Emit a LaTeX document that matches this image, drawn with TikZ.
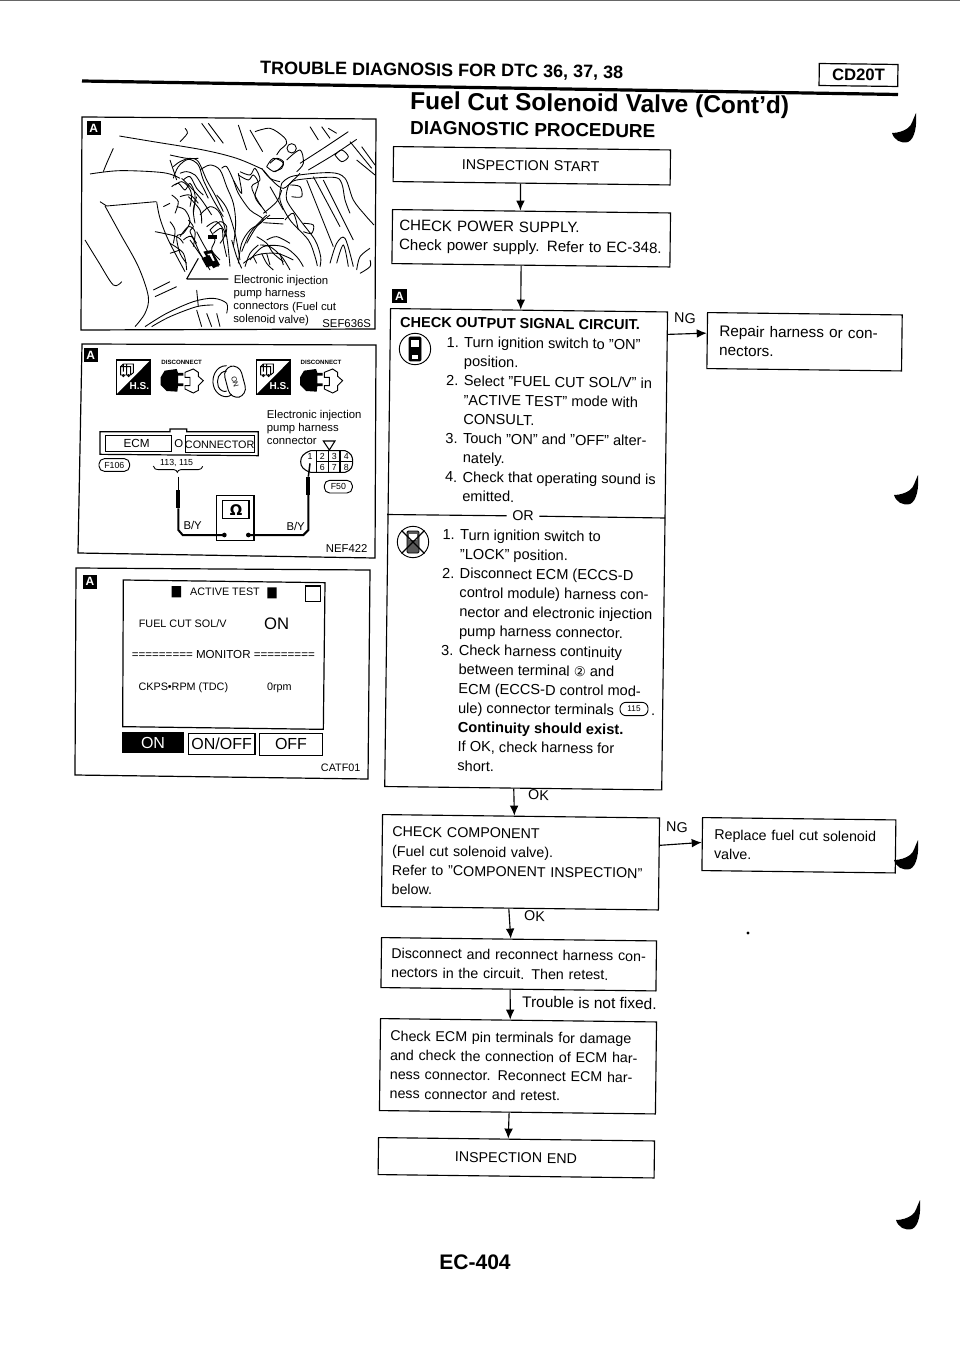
\documentclass[tikz,border=0pt]{standalone}
\usepackage{fontspec}
\setmainfont{Liberation Sans}
\newfontfamily\djv{DejaVu Sans}
\usetikzlibrary{arrows.meta,calc}
\newcommand{\fsz}[2]{\fontsize{#1}{#2}\selectfont}
\newcommand{\skc}[1]{\draw[sk] plot[smooth,tension=.55] coordinates {#1};}
\tikzset{
  sk/.style={line width=0.65pt,black},
  frameline/.style={line width=0.9pt,black},
  flowbox/.style={draw,line width=0.85pt,rotate=-0.7,anchor=north west,align=left,inner xsep=7.5pt,inner ysep=0pt,font=\fsz{10.7}{14.44}},
  bw/.style={minimum width=#1*0.75pt,text width=#1*0.75pt-15pt},
  bh/.style={minimum height=#1*0.75pt},
  txt/.style={rotate=-0.7,anchor=west,inner sep=0pt,align=left,font=\fsz{10.7}{14.44}},
  ptxt/.style={inner sep=0pt,align=left,font=\fsz{8.5}{9.9}},
  flow/.style={line width=0.85pt,-{Latex[length=7.5pt,width=6.5pt]}},
  mk/.style={fill=black,text=white,inner sep=0pt,minimum size=10.6pt,font=\bfseries\fsz{9}{9}},
  jmark/.pic={\fill[black] (0,0) .. controls (-3,6) and (-4,12) .. (-8,15) .. controls (-12,18) and (-18,20) .. (-24,20) .. controls (-22,27) and (-15,31) .. (-8,29) .. controls (-1,26) and (1,12) .. (0,0) -- cycle;},
  hsicon/.pic={
    \draw[line width=0.8pt] (0,0) rectangle (102,103);
    \fill[black] (102,0) -- (102,103) -- (0,103) -- cycle;
    \node[text=white,inner sep=0pt,font=\bfseries\fsz{7.5}{8}] (-t) at (68,77) {H.S.};
    \draw[sk] (12,20) rectangle (42,45) (12,20) -- (20,12) -- (50,12) -- (50,38) -- (42,45) (20,12)--(20,35) (30,12)--(30,45);
    \draw[sk] (20,47) circle (3) (36,47) circle (3);
  },
  dcicon/.pic={
    \node[inner sep=0pt,font=\bfseries\fsz{4.6}{5}] (-t) at (63,-20) {DISCONNECT};
    \fill[black] (0,25) -- (12,5) -- (48,0) -- (52,12) -- (68,12) -- (68,20) -- (52,20) -- (52,43) -- (68,43) -- (68,51) -- (52,51) -- (50,68) -- (18,66) -- (0,48) -- cycle;
    \draw[line width=0.7pt] (73,10) -- (98,0) -- (113,10) -- (113,22) -- (128,35) -- (113,50) -- (113,64) -- (98,72) -- (73,60) -- (73,50) -- (88,50) -- (88,25) -- (73,25) -- cycle;
  }
}
\begin{document}
\begin{tikzpicture}[x=0.75pt,y=-0.75pt]
\useasboundingbox (0,0) rectangle (960,1358);
\draw[black!60,line width=0.8pt] (0,0.6) -- (960,0.6);
% ---- heading
\node[rotate=-0.7,anchor=west,inner sep=0pt,font=\bfseries\fsz{13.5}{16}] (head) at (260,69) {TROUBLE DIAGNOSIS FOR DTC 36, 37, 38};
\draw[line width=2.4pt] (82,81) -- (898,94.5);
\node[draw,line width=0.9pt,rotate=-0.7,minimum width=59pt,minimum height=16.5pt,inner sep=0pt,font=\bfseries\fsz{12.5}{13}] (cd) at (858.5,75) {CD20T};
\node[rotate=-0.7,anchor=west,inner sep=0pt,font=\bfseries\fsz{18.4}{20}] (fuel) at (410,103) {Fuel Cut Solenoid Valve (Cont'd)};
\node[rotate=-0.7,anchor=west,inner sep=0pt,font=\bfseries\fsz{14.2}{15}] (dp) at (410,128) {DIAGNOSTIC PROCEDURE};
\node[inner sep=0pt,font=\bfseries\fsz{15.8}{17}] (page) at (475,1262) {EC-404};
% ---- flow boxes
\node[flowbox,bw=277,bh=35] (start) at (393,146) {\hspace*{44pt}INSPECTION START};
\node[flowbox,minimum width=208.5pt,bh=54,font=\fsz{11.3}{14.44},inner xsep=5.25pt,text width=198pt] (power) at (392,209) {CHECK POWER SUPPLY.\\Check power supply. Refer to EC-348.};
\node[flowbox,bw=277,bh=478] (output) at (390,308) {};
\node[flowbox,bw=188,bh=56,inner xsep=9pt,text width=128pt,font=\fsz{11.5}{14.44}] (repair) at (707,312) {Repair harness or con-\\nectors.};
\node[flowbox,bw=277,bh=92] (comp) at (382,814) {CHECK COMPONENT\\(Fuel cut solenoid valve).\\Refer to "COMPONENT INSPECTION"\\below.};
\node[flowbox,bw=186,bh=53,inner xsep=9pt,text width=127pt] (replace) at (702,817) {Replace fuel cut solenoid\\valve.};
\node[flowbox,bw=275,bh=50] (disc) at (381,937) {Disconnect and reconnect harness con-\\nectors in the circuit. Then retest.};
\node[flowbox,bw=276,bh=92] (ecm) at (380,1018) {Check ECM pin terminals for damage\\and check the connection of ECM har-\\ness connector. Reconnect ECM har-\\ness connector and retest.};
\node[flowbox,bw=276,bh=37] (end) at (378,1137) {\hspace*{50pt}INSPECTION END};
% ---- box text of the large step
\node[txt,font=\bfseries\fsz{10.9}{14.44}] (otitle) at (400,322) {CHECK OUTPUT SIGNAL CIRCUIT.};
\node[txt,font=\fsz{10.95}{14.44}] (oa) at (445.5,419) {1. Turn ignition switch to "ON"\\\phantom{1. }position.\\2. Select "FUEL CUT SOL/V" in\\\phantom{2. }"ACTIVE TEST" mode with\\\phantom{2. }CONSULT.\\3. Touch "ON" and "OFF" alter-\\\phantom{3. }nately.\\4. Check that operating sound is\\\phantom{4. }emitted.};
\node[txt,font=\fsz{10.95}{14.44}] (ob) at (441,650) {1. Turn ignition switch to\\\phantom{1. }"LOCK" position.\\2. Disconnect ECM (ECCS-D\\\phantom{2. }control module) harness con-\\\phantom{2. }nector and electronic injection\\\phantom{2. }pump harness connector.\\3. Check harness continuity\\\phantom{3. }between terminal {\djv\fsz{10}{14.44}②} and\\\phantom{3. }ECM (ECCS-D control mod-\\\phantom{3. }ule) connector terminals \hspace{25pt}.\\\phantom{3. }\textbf{Continuity should exist.}\\\phantom{3. }If OK, check harness for\\\phantom{3. }short.};
\node[draw,line width=0.7pt,rounded corners=4.5pt,inner sep=0pt,minimum width=21pt,minimum height=10pt,font=\fsz{6.2}{7}] (t115) at (634,709) {115};
\node[inner sep=0pt,font=\fsz{10.7}{12},fill=white,inner xsep=4pt,rotate=-0.7] (ortxt) at (523,516) {OR};
\draw[line width=0.85pt] (387,514.5) -- (ortxt.west) (ortxt.east) -- (665,518);
% ---- ignition icons
\node[draw,circle,line width=0.7pt,minimum size=23.5pt,inner sep=0pt] (ign1) at (415,349) {};
\draw[line width=0.7pt,fill=black,rounded corners=1pt] (409,337) rectangle (421,361);
\fill[white] (411,340) rectangle (419,347);
\fill[white] (412,355) rectangle (418,359);
\node[draw,circle,line width=0.7pt,minimum size=23.5pt,inner sep=0pt] (ign2) at (413,542) {};
\draw[line width=0.7pt,fill=black!65,rounded corners=1pt] (407,531) rectangle (419,553);
\fill[white] (409,534) rectangle (417,540);
\draw[line width=1pt] (ign2.north west) -- (ign2.south east) (ign2.north east) -- (ign2.south west);
% ---- connectors
\coordinate (s1) at ($(start.south west)!0.46!(start.south east)$);
\coordinate (t1) at ($(power.north west)!0.46!(power.north east)$);
\draw[flow] (s1) -- (t1);
\coordinate (s2) at ($(power.south west)!0.465!(power.south east)$);
\coordinate (t2) at ($(output.north west)!0.47!(output.north east)$);
\draw[flow] (s2) -- (t2);
\coordinate (s3) at ($(output.south west)!0.466!(output.south east)$);
\coordinate (t3) at ($(comp.north west)!0.476!(comp.north east)$);
\draw[flow] (s3) -- (t3);
\coordinate (s4) at ($(comp.south west)!0.46!(comp.south east)$);
\coordinate (t4) at ($(disc.north west)!0.47!(disc.north east)$);
\draw[flow] (s4) -- (t4);
\coordinate (s5) at ($(disc.south west)!0.47!(disc.south east)$);
\coordinate (t5) at ($(ecm.north west)!0.47!(ecm.north east)$);
\draw[flow] (s5) -- (t5);
\coordinate (s6) at ($(ecm.south west)!0.47!(ecm.south east)$);
\coordinate (t6) at ($(end.north west)!0.47!(end.north east)$);
\draw[flow] (s6) -- (t6);
\coordinate (s7) at ($(output.north east)!0.048!(output.south east)$);
\coordinate (t7) at ($(repair.north west)!0.37!(repair.south west)$);
\draw[flow] (s7) -- (t7);
\coordinate (s8) at ($(comp.north east)!0.3!(comp.south east)$);
\coordinate (t8) at ($(replace.north west)!0.47!(replace.south west)$);
\draw[flow] (s8) -- (t8);
\node[txt] (ok1) at (528,795) {OK};
\node[txt] (ok2) at (524,916) {OK};
\node[txt,font=\fsz{11.6}{14.44}] (trb) at (522,1002) {Trouble is not fixed.};
\node[txt] (ng1) at (674,318) {NG};
\node[txt] (ng2) at (666,827) {NG};
\node[mk] (ma) at (399.5,296) {A};
% ---- right margin marks
\pic at (916,113) {jmark};
\pic at (918,475) {jmark};
\pic at (918,840) {jmark};
\pic at (920,1200) {jmark};
\fill (748,933) circle (1.6);
% ---- panel 1
\draw[frameline] (82,117) -- (376,119) -- (375,329) -- (81,330) -- cycle;
\begin{scope}[shift={(70,100)},x=0.25pt,y=-0.25pt]
\node[mk] (m1) at (71,85) {A};
\skc{(345,85)(352,100)(330,125)}
\skc{(395,70)(435,125)}
\skc{(415,70)(460,130)}
\skc{(505,75)(530,150)}
\skc{(540,90)(578,155)}
\skc{(555,95)(600,85)(640,110)(650,130)(630,150)(620,165)}
\skc{(720,80)(745,120)}
\skc{(755,80)(780,115)}
\skc{(775,85)(800,100)}
\skc{(148,108)(250,125)(400,150)(500,175)(578,208)}
\skc{(60,222)(150,212)(280,218)(330,235)}
\skc{(130,145)(110,190)(100,215)}
\skc{(300,165)(350,175)(385,175)}
\skc{(310,235)(325,200)(355,178)(385,195)(400,240)(430,300)(460,350)}
\skc{(390,210)(420,195)(450,210)(470,260)(490,310)(497,370)(490,440)}
\skc{(305,260)(325,250)(345,270)(360,250)(375,285)(370,340)}
\skc{(335,235)(365,265)(395,300)(425,345)}
\skc{(355,290)(390,330)(395,370)}
\skc{(455,205)(470,200)(490,240)(505,280)(540,330)(580,360)(540,390)(515,430)(505,490)}
\skc{(440,285)(470,325)(495,400)(510,480)}
\skc{(505,225)(535,240)(550,225)(565,250)(555,290)(575,320)}
\skc{(575,205)(600,235)(630,245)}
\skc{(590,200)(610,175)(640,190)(615,215)(590,200)}
\skc{(600,345)(560,380)(530,430)}
\skc{(590,345)(570,365)(540,400)(515,455)}
\skc{(580,368)(640,372)}
\skc{(255,395)(320,410)(340,430)}
\skc{(300,430)(340,460)(350,510)}
\skc{(330,410)(355,380)(375,395)(370,440)}
\skc{(420,390)(450,365)(470,380)(465,410)}
\skc{(430,400)(455,385)(460,425)(470,470)}
\skc{(360,420)(395,470)(420,510)}
\skc{(380,395)(410,450)(445,500)}
\fill (400,455) -- (425,450) -- (450,495) -- (430,505) -- cycle;
\fill[white] (412,462) -- (424,460) -- (434,482) -- (425,485) -- cycle;
\fill (415,405) rectangle (440,418);
\begin{scope}[shift={(300,90)}]
\skc{(0,90)(20,150)}
\skc{(10,110)(30,95)(60,85)(85,95)(110,150)(135,195)(160,245)}
\skc{(30,130)(50,125)(75,135)(95,165)(115,205)}
\skc{(40,150)(60,140)(80,175)(100,195)}
\skc{(15,165)(35,155)(55,170)(65,195)(60,230)}
\skc{(20,230)(45,240)(60,275)(40,310)(20,320)(30,370)(50,400)}
\skc{(80,200)(70,240)(75,280)}
\skc{(90,255)(120,230)(150,250)(170,320)(180,410)}
\skc{(110,290)(140,275)(165,310)(150,340)}
\skc{(0,275)(15,300)(10,340)}
\skc{(0,370)(30,360)}
\skc{(210,125)(240,135)(255,115)(270,150)(245,170)(265,215)(290,250)}
\skc{(190,150)(215,190)(205,130)}
\skc{(280,120)(310,155)(340,175)(370,150)(390,130)}
\skc{(300,100)(320,85)(340,95)(335,115)(310,125)}
\skc{(260,320)(290,340)(310,370)(340,395)}
\skc{(270,345)(300,350)(335,380)(360,420)}
\skc{(275,370)(290,400)(310,420)}
\skc{(225,410)(240,370)(265,345)}
\skc{(280,250)(320,215)(335,180)}
\skc{(290,265)(340,265)}
\skc{(55,270)(70,290)(60,305)(80,340)}
\skc{(40,330)(65,320)(90,370)(110,400)}
\skc{(120,300)(135,330)(125,360)(150,390)}
\skc{(185,330)(200,380)(215,415)}
\skc{(345,270)(370,250)(385,300)}
\skc{(30,200)(60,195)(85,220)}
\skc{(5,195)(25,215)(15,250)}
\fill (95,385) -- (118,375) -- (135,405) -- (110,412) -- cycle;
\end{scope}
\skc{(690,190)(760,145)(835,95)}
\skc{(715,210)(790,165)(860,118)}
\draw[sk] (665,145) circle (14);
\skc{(650,180)(690,150)(700,190)(680,215)}
\skc{(635,250)(670,228)(780,218)(825,235)(850,300)(885,345)(912,375)}
\skc{(655,258)(680,240)(790,232)(815,250)(825,300)(840,340)}
\skc{(635,250)(630,300)(660,360)(715,420)(735,470)(742,498)}
\skc{(655,258)(650,300)(690,360)(735,420)(752,470)(750,500)}
\skc{(660,255)(690,260)(695,290)(665,290)}
\skc{(700,370)(730,375)(725,400)(700,395)}
\draw[sk] (710,240) -- (790,440) (730,230) -- (810,380) (860,180) -- (915,225) (840,125) -- (905,205) (875,140) -- (915,195) (600,260) -- (640,330) (760,240) -- (850,420);
\skc{(795,165)(815,150)(835,170)(815,185)(795,165)}
\skc{(780,490)(800,430)(825,415)(850,500)}
\skc{(800,490)(820,435)(835,500)}
\skc{(860,510)(870,470)(900,445)}
\skc{(870,520)(900,500)(900,480)}
\skc{(540,480)(580,440)(640,440)(680,470)(700,500)}
\skc{(520,490)(560,465)(620,460)(670,480)}
\skc{(590,420)(620,410)(660,430)}
\skc{(550,470)(560,490)}\skc{(590,460)(600,495)}\skc{(630,460)(640,495)}
\draw[sk] (90,305) -- (110,318) -- (258,305);
\skc{(105,318)(150,400)(205,500)(235,590)(225,640)(195,680)}
\skc{(45,420)(85,485)(130,555)(155,545)}
\skc{(260,305)(270,355)(295,420)(345,515)}
\skc{(280,320)(300,310)}
\skc{(225,680)(290,640)(370,605)(430,595)(470,610)(470,640)}
\skc{(245,680)(300,650)(380,620)(430,615)}
\skc{(250,570)(300,545)}
\skc{(255,590)(320,560)}
\skc{(380,570)(385,620)}
\skc{(380,630)(395,680)}\skc{(410,640)(425,680)}\skc{(440,640)(450,680)}
\draw[line width=0.8pt] (350,537) -- (475,537) (350,537) -- (385,475);
\node[ptxt,anchor=west,rotate=-0.7,font=\fsz{8.5}{9.85}] (lbl1) at (490,600) {Electronic injection\\pump harness\\connectors (Fuel cut\\solenoid valve)};
\node[ptxt,anchor=center,font=\fsz{8.5}{10}] (sef) at (830,670) {SEF636S};
\end{scope}
% ---- panel 2
\draw[frameline] (82,344) -- (376,345) -- (375,558) -- (78,553) -- cycle;
\begin{scope}[shift={(70,335)},x=0.25pt,y=-0.25pt]
\node[mk] (m2) at (62,61) {A};
\pic (h1) at (140,75) {hsicon};
\pic (d1) at (272,102) {dcicon};
\pic (h2) at (560,75) {hsicon};
\pic (d2) at (690,102) {dcicon};
\draw[line width=0.7pt] (470,92) .. controls (435,92) and (425,130) .. (430,150) .. controls (435,180) and (470,195) .. (485,178);
\draw[line width=0.7pt] (470,108) .. controls (445,110) and (438,135) .. (445,155) .. controls (450,168) and (465,172) .. (470,168);
\node[draw,line width=0.7pt,rounded corners=7pt,rotate=-75,inner sep=0pt,font=\fsz{5.5}{6},minimum width=24pt,minimum height=13pt] (key) at (495,140) {ON};
\node[ptxt,anchor=north west,font=\fsz{8.5}{9.8}] (lbl2) at (590,225) {Electronic injection\\pump harness\\connector};
\draw[line width=0.9pt] (90,290) -- (300,290) -- (300,282) -- (350,282) -- (350,290) -- (565,290) -- (565,362) -- (90,358) -- cycle;
\draw[line width=0.7pt] (105,300) rectangle (305,350);
\draw[line width=0.7pt] (345,302) rectangle (552,352);
\node[inner sep=0pt,font=\fsz{8.8}{10}] (ecml) at (200,326) {ECM};
\node[inner sep=0pt,font=\fsz{8.1}{10}] (conn) at (449,329) {CONNECTOR};
\node[inner sep=0pt,font=\fsz{8.5}{10}] (olet) at (326,326) {O};
\node[draw,line width=0.7pt,rounded corners=4pt,minimum width=23pt,minimum height=9.5pt,inner sep=0pt,font=\fsz{6.6}{7}] (f106) at (133,390) {F106};
\node[inner sep=0pt,font=\fsz{6.6}{7}] (pins) at (320,385) {113, 115};
\draw[sk] (250,393) .. controls (252,402) and (258,404) .. (265,404) -- (312,404) .. controls (318,404) and (320,408) .. (322,412) .. controls (324,408) and (326,404) .. (332,404) -- (385,404) .. controls (392,404) and (396,400) .. (398,394);
\draw[line width=1.1pt] (325,425) -- (325,470);
\draw[line width=3pt] (325,465) -- (325,520);
\draw[line width=1.5pt] (325,520) -- (325,585) -- (338,600) -- (463,600);
\draw[line width=0.9pt] (440,482) rectangle (552,617);
\draw[line width=0.9pt] (458,497) rectangle (537,550);
\node[inner sep=0pt,font=\bfseries\fsz{11}{12}\djv] (ohm) at (498,525) {Ω};
\fill (463,600) circle (7) (535,600) circle (7);
\draw[line width=1.5pt] (535,600) -- (700,600) -- (715,585) -- (715,480);
\draw[line width=3pt] (715,480) -- (715,425);
\draw[line width=1.1pt] (715,425) -- (720,385);
\node[inner sep=0pt,font=\fsz{8.5}{10}] (by1) at (368,572) {B/Y};
\node[inner sep=0pt,font=\fsz{8.5}{10}] (by2) at (677,575) {B/Y};
\node[inner sep=0pt,font=\fsz{8.5}{10}] (nef) at (830,640) {NEF422};
\draw[line width=0.8pt] (722,347) -- (825,347) .. controls (845,355) and (848,365) .. (848,380) .. controls (848,395) and (845,405) .. (825,412) -- (722,412) .. controls (700,405) and (692,395) .. (692,380) .. controls (692,365) and (700,355) .. (722,347);
\draw[line width=0.8pt] (740,347) -- (740,412) (775,347) -- (775,412) (810,347) -- (810,412) (740,380) -- (848,380);
\draw[line width=0.8pt] (760,318) -- (795,318) -- (778,345) -- cycle;
\node[inner sep=0pt,font=\fsz{6.6}{7}] (p1) at (720,364) {1};
\node[inner sep=0pt,font=\fsz{6.6}{7}] (p2) at (757,364) {2};
\node[inner sep=0pt,font=\fsz{6.6}{7}] (p3) at (793,364) {3};
\node[inner sep=0pt,font=\fsz{6.6}{7}] (p4) at (829,364) {4};
\node[inner sep=0pt,font=\fsz{6.6}{7}] (p6) at (757,397) {6};
\node[inner sep=0pt,font=\fsz{6.6}{7}] (p7) at (793,397) {7};
\node[inner sep=0pt,font=\fsz{6.6}{7}] (p8) at (829,397) {8};
\node[draw,line width=0.7pt,rounded corners=4pt,minimum width=21pt,minimum height=9.5pt,inner sep=0pt,font=\fsz{6.6}{7}] (f50) at (805,455) {F50};
\end{scope}
% ---- panel 3
\draw[frameline] (76,568) -- (370,570) -- (368,779) -- (75,775) -- cycle;
\begin{scope}[shift={(70,560)},x=0.25pt,y=-0.25pt]
\node[mk] (m3) at (60,65) {A};
\draw[line width=0.9pt] (160,60) -- (765,68) -- (760,508) -- (158,500) -- cycle;
\fill (305,78) rectangle (333,112) (592,82) rectangle (620,115);
\draw[line width=0.9pt] (707,78) rectangle (752,125);
\node[inner sep=0pt,font=\fsz{8.1}{9}] (act) at (465,95) {ACTIVE TEST};
\node[inner sep=0pt,font=\fsz{8.1}{9}] (fcs) at (338,192) {FUEL CUT SOL/V};
\node[inner sep=0pt,font=\fsz{12.5}{13}] (onv) at (620,190) {ON};
\node[inner sep=0pt,font=\fsz{8.7}{10}] (mon) at (460,283) {========= MONITOR =========};
\node[inner sep=0pt,font=\fsz{8.1}{9}] (ckp) at (340,382) {CKPS•RPM (TDC)};
\node[inner sep=0pt,font=\fsz{8.1}{9}] (rpm) at (628,383) {0rpm};
\node[fill=black,text=white,inner sep=0pt,minimum width=47pt,minimum height=16pt,font=\fsz{12}{13}] (bon) at (249,548) {ON};
\node[draw,line width=0.9pt,inner sep=0pt,minimum width=50pt,minimum height=16pt,font=\fsz{12}{13}] (bonoff) at (455,552) {ON/OFF};
\node[draw,line width=0.9pt,inner sep=0pt,minimum width=47.5pt,minimum height=16.5pt,font=\fsz{12}{13}] (boff) at (663,553) {OFF};
\node[inner sep=0pt,font=\fsz{8.1}{9}] (cat) at (812,622) {CATF01};
\end{scope}
\end{tikzpicture}
\end{document}
